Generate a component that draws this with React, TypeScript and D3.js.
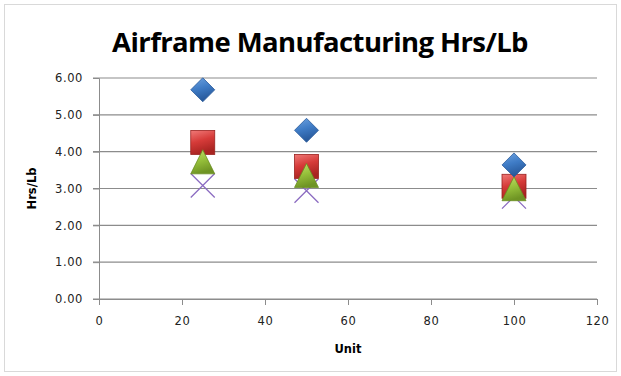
import React, { useEffect, useRef } from "react";
import * as d3 from "d3";

const units = [25, 50, 100];
const seriesA = [5.68, 4.58, 3.64]; // blue diamonds
const seriesB = [4.25, 3.6, 3.06]; // red squares
const seriesC = [3.67, 3.3, 2.94]; // green triangles
const seriesD = [3.08, 2.94, 2.78]; // purple crosses
const yTicks = [0, 1, 2, 3, 4, 5, 6];
const xTicks = [0, 20, 40, 60, 80, 100, 120];

const W = 621;
const H = 376;

const App: React.FC = () => {
  const ref = useRef<SVGSVGElement>(null);

  useEffect(() => {
    const svg = d3.select(ref.current);
    svg.selectAll("*").remove();

    const margin = { top: 78, right: 24, bottom: 77, left: 99 };
    const x = d3.scaleLinear().domain([0, 120]).range([margin.left, W - margin.right]);
    const y = d3.scaleLinear().domain([0, 6]).range([H - margin.bottom, margin.top]);

    const defs = svg.append("defs");
    const grad = (id: string, light: string, mid: string, dark: string) => {
      const g = defs.append("linearGradient").attr("id", id)
        .attr("x1", 0).attr("y1", 0).attr("x2", 0.3).attr("y2", 1);
      g.append("stop").attr("offset", "0%").attr("stop-color", light);
      g.append("stop").attr("offset", "50%").attr("stop-color", mid);
      g.append("stop").attr("offset", "100%").attr("stop-color", dark);
    };
    grad("gBlue", "#6fa3e0", "#3f7cc6", "#27589a");
    grad("gRed", "#f07a78", "#d63b39", "#a82421");
    grad("gGreen", "#c4e070", "#98c23c", "#6f9424");

    // frame
    svg.append("rect").attr("x", 4.5).attr("y", 4.5).attr("width", W - 9).attr("height", H - 9)
      .attr("fill", "white").attr("stroke", "#d9d9d9");

    svg.append("text").attr("x", 320).attr("y", 52).attr("text-anchor", "middle")
      .attr("font-family", "Open Sans, sans-serif").attr("font-weight", "bold")
      .attr("font-size", 27.5).attr("letter-spacing", -0.6).attr("fill", "#000")
      .text("Airframe Manufacturing Hrs/Lb");

    // gridlines
    svg.append("g").selectAll("line").data(yTicks).join("line")
      .attr("x1", x(0) - 6).attr("x2", x(120))
      .attr("y1", (d) => y(d)).attr("y2", (d) => y(d))
      .attr("stroke", "#8c8c8c").attr("stroke-width", 1.2);

    const tickFont = (sel: d3.Selection<any, any, any, any>) =>
      sel.selectAll("text").attr("font-family", "DejaVu Sans, sans-serif")
        .attr("font-size", 11.5).attr("letter-spacing", 0.6).attr("fill", "#222");

    const yAxis = svg.append("g")
      .attr("transform", `translate(${x(0)},0)`)
      .call(d3.axisLeft(y).tickValues(yTicks).tickFormat(d3.format(".2f")).tickSize(6).tickPadding(10))
      .call((g) => g.select(".domain").attr("stroke", "#8c8c8c"));
    yAxis.selectAll("line").attr("stroke", "#8c8c8c");
    tickFont(yAxis);

    const xAxis = svg.append("g")
      .attr("transform", `translate(0,${y(0)})`)
      .call(d3.axisBottom(x).tickValues(xTicks).tickSize(6).tickPadding(12))
      .call((g) => g.select(".domain").attr("stroke", "#8c8c8c"));
    xAxis.selectAll("line").attr("stroke", "#8c8c8c");
    tickFont(xAxis);

    svg.append("text").attr("x", x(60)).attr("y", 353).attr("text-anchor", "middle")
      .attr("font-family", "DejaVu Sans, sans-serif").attr("font-weight", "bold").attr("font-size", 11.5)
      .text("Unit");
    svg.append("text").attr("transform", `translate(36,${y(3)}) rotate(-90)`).attr("text-anchor", "middle")
      .attr("font-family", "DejaVu Sans, sans-serif").attr("font-weight", "bold").attr("font-size", 11.5)
      .text("Hrs/Lb");

    const pts = (vals: number[]) => units.map((u, i) => ({ u, v: vals[i] }));
    const r = 12;

    // purple crosses
    svg.append("g").selectAll("path").data(pts(seriesD)).join("path")
      .attr("d", (d) => {
        const cx = x(d.u), cy = y(d.v);
        return `M${cx - r},${cy - r}L${cx + r},${cy + r}M${cx - r},${cy + r}L${cx + r},${cy - r}`;
      })
      .attr("stroke", "#8b6bc1").attr("stroke-width", 1.3).attr("fill", "none");

    // red squares
    svg.append("g").selectAll("rect").data(pts(seriesB)).join("rect")
      .attr("x", (d) => x(d.u) - r).attr("y", (d) => y(d.v) - r)
      .attr("width", r * 2).attr("height", r * 2)
      .attr("fill", "url(#gRed)").attr("stroke", "#9a2220").attr("stroke-width", 0.8);

    // green triangles
    svg.append("g").selectAll("path").data(pts(seriesC)).join("path")
      .attr("d", (d) => {
        const cx = x(d.u), cy = y(d.v);
        return `M${cx},${cy - 14}L${cx + 12},${cy + 10}L${cx - 12},${cy + 10}Z`;
      })
      .attr("fill", "url(#gGreen)").attr("stroke", "#6a8e22").attr("stroke-width", 0.8);

    // blue diamonds
    svg.append("g").selectAll("path").data(pts(seriesA)).join("path")
      .attr("d", (d) => {
        const cx = x(d.u), cy = y(d.v);
        return `M${cx},${cy - 12}L${cx + 12},${cy}L${cx},${cy + 12}L${cx - 12},${cy}Z`;
      })
      .attr("fill", "url(#gBlue)").attr("stroke", "#2a5a9a").attr("stroke-width", 0.8);
  }, []);

  return <svg ref={ref} width={W} height={H} style={{ position: "absolute", left: 0, top: 0 }} />;
};

export default App;
